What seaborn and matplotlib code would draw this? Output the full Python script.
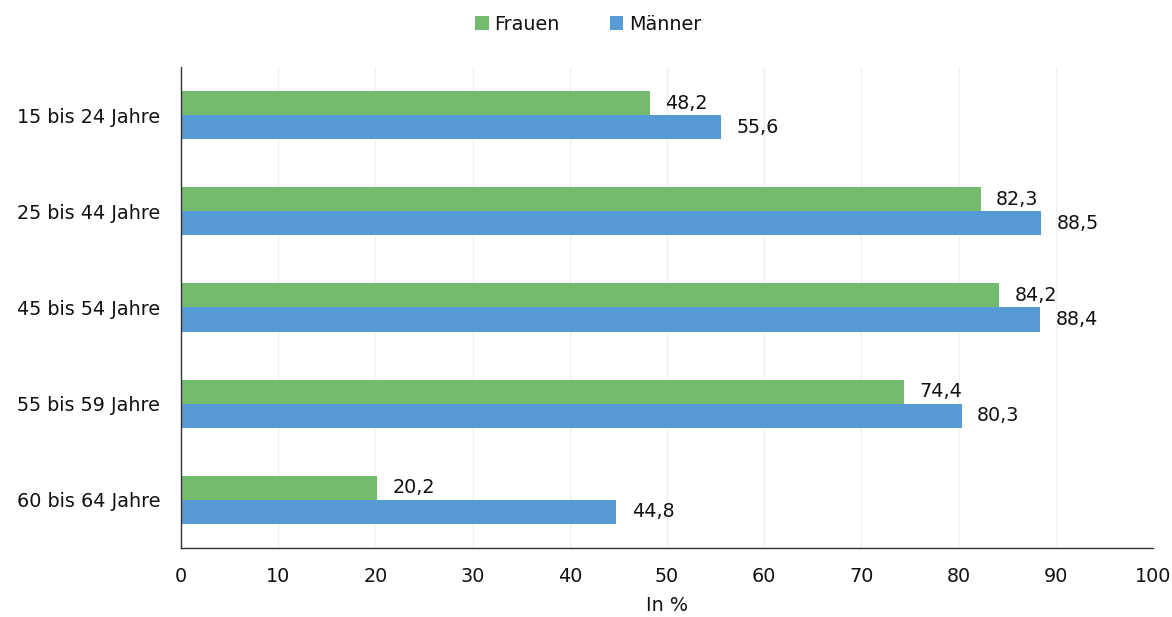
import matplotlib
matplotlib.use("Agg")
import matplotlib.pyplot as plt
import seaborn as sns
import pandas as pd

age_groups = ["15 bis 24 Jahre", "25 bis 44 Jahre", "45 bis 54 Jahre",
              "55 bis 59 Jahre", "60 bis 64 Jahre"]
frauen = [48.2, 82.3, 84.2, 74.4, 20.2]
maenner = [55.6, 88.5, 88.4, 80.3, 44.8]
series_names = ["Frauen", "Männer"]
x_ticks = [0, 10, 20, 30, 40, 50, 60, 70, 80, 90, 100]

df = pd.DataFrame({
    "Altersgruppe": age_groups * 2,
    "Wert": frauen + maenner,
    "Geschlecht": [series_names[0]] * len(age_groups) + [series_names[1]] * len(age_groups),
})

sns.set_theme(style="white")
plt.rcParams["font.family"] = ["DejaVu Sans"]
text_color = "#111111"
fs = 13.8

fig = plt.figure(figsize=(11.72, 6.17), dpi=100)
ax = fig.add_axes([181 / 1172, 1 - 548 / 617, (1153 - 181) / 1172, (548 - 67) / 617])

palette = {"Frauen": "#72BB6F", "Männer": "#579BD6"}
sns.barplot(data=df, y="Altersgruppe", x="Wert", hue="Geschlecht",
            hue_order=series_names, order=age_groups, palette=palette,
            orient="h", width=0.5, saturation=1, linewidth=0, ax=ax, legend=True)

for container in ax.containers:
    labels = [f"{v:.1f}".replace(".", ",") for v in container.datavalues]
    ax.bar_label(container, labels=labels, padding=11, fontsize=fs, color=text_color)

ax.set_xlim(0, 100)
ax.set_ylim(4.5, -0.5)
ax.set_xticks(x_ticks)
ax.set_xticklabels([str(t) for t in x_ticks], fontsize=fs, color=text_color)
ax.tick_params(axis="x", length=5, width=1, color="#333333", pad=9)
ax.tick_params(axis="y", length=0, labelsize=fs, pad=15, labelcolor=text_color)
ax.xaxis.grid(True, color="#F0F0F0", linewidth=1)
ax.set_axisbelow(True)
ax.set_ylabel("")
ax.set_xlabel("In %", fontsize=fs, labelpad=7, color=text_color)

for side in ["top", "right"]:
    ax.spines[side].set_visible(False)
ax.spines["left"].set_color("#333333")
ax.spines["bottom"].set_color("#333333")
ax.spines["left"].set_linewidth(1)
ax.spines["bottom"].set_linewidth(1)

handles, labels = ax.get_legend_handles_labels()
ax.legend_.remove()
leg = fig.legend(handles, labels, loc="center", bbox_to_anchor=(0.502, 1 - 24 / 617),
                 ncol=2, frameon=False, fontsize=fs, handlelength=0.7, handleheight=0.7,
                 handletextpad=0.3, columnspacing=2.6)
for t in leg.get_texts():
    t.set_color(text_color)

fig.savefig("out.png", dpi=100)
